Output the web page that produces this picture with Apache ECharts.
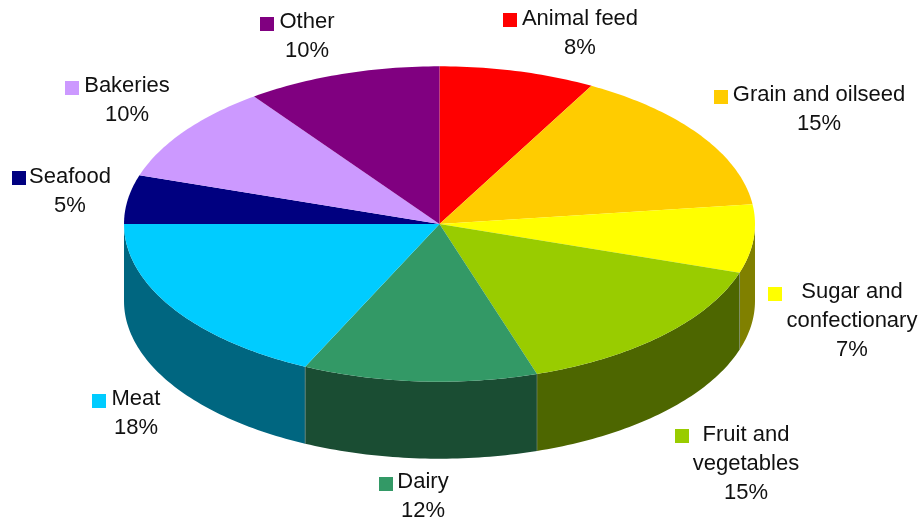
<!DOCTYPE html>
<html>
<head>
<meta charset="utf-8">
<style>html,body{margin:0;padding:0;background:#fff}#chart{width:919px;height:521px}</style>
<script src="https://cdn.jsdelivr.net/npm/echarts@6/dist/echarts.min.js"></script>
</head>
<body>
<div id="chart"></div>
<script>
// Data, clockwise from 12 o'clock
const categories = ['Animal feed', 'Grain and oilseed', 'Sugar and\nconfectionary', 'Fruit and\nvegetables', 'Dairy', 'Meat', 'Seafood', 'Bakeries', 'Other'];
const shares = [8, 15, 7, 15, 12, 18, 5, 10, 10];

// Styles and layout (kept apart from the data)
const topColors = ['#FF0000', '#FFCC00', '#FFFF00', '#99CC00', '#339966', '#00CCFF', '#000080', '#CC99FF', '#800080'];
const wallColors = ['#800000', '#806600', '#808000', '#4D6600', '#1A4D33', '#006680', '#000040', '#664D80', '#400040'];
const labelCenters = [[580, 33], [819, 109], [852, 321], [746, 463.5], [423, 496.5], [136, 413], [70, 191.5], [127, 100.5], [307, 36.5]];
const keyCorners = [[503, 13], [714, 90], [768, 287], [675, 429], [379, 477], [92, 394], [12, 171], [65, 81], [260, 17]];
const PIE = { cx: 439.5, cy: 224, rx: 315.5, ry: 157.7, depth: 77 };
const KEY_SIZE = 14;
const FONT = { size: 22, family: '"Liberation Sans", Arial, sans-serif', lineHeight: 29 };

const total = shares.reduce((a, b) => a + b, 0);
const startAt = shares.map((_, i) => shares.slice(0, i).reduce((a, b) => a + b, 0));
const toAngle = v => v / total * 2 * Math.PI;
const rim = (a, dy) => [PIE.cx + PIE.rx * Math.sin(a), PIE.cy - PIE.ry * Math.cos(a) + (dy || 0)];
const arc = (a0, a1, dy) => {
  const n = Math.max(2, Math.ceil((a1 - a0) / (Math.PI / 180)));
  const pts = [];
  for (let k = 0; k <= n; k++) pts.push(rim(a0 + (a1 - a0) * k / n, dy));
  return pts;
};

function renderWall(params, api) {
  const i = params.dataIndex;
  const a0 = Math.max(toAngle(api.value(1)), Math.PI / 2);
  const a1 = Math.min(toAngle(api.value(1) + api.value(0)), Math.PI * 1.5);
  if (a1 <= a0) return { type: 'group', children: [] };
  const upper = arc(a0, a1, 0);
  const lower = arc(a0, a1, PIE.depth).reverse();
  const seam = rim(a0, 0);
  return {
    type: 'group',
    children: [
      { type: 'polygon', shape: { points: upper.concat(lower) }, style: { fill: wallColors[i] }, silent: true },
      { type: 'line', shape: { x1: seam[0], y1: seam[1], x2: seam[0], y2: seam[1] + PIE.depth },
        style: { stroke: '#7F8F7F', lineWidth: 1, opacity: i === 2 ? 0 : 0.6 }, silent: true }
    ]
  };
}

function renderTop(params, api) {
  const i = params.dataIndex;
  const a0 = toAngle(api.value(1));
  const a1 = toAngle(api.value(1) + api.value(0));
  return {
    type: 'polygon',
    shape: { points: [[PIE.cx, PIE.cy]].concat(arc(a0, a1, 0)) },
    style: { fill: topColors[i] },
    silent: true
  };
}

function renderLabel(params, api) {
  const i = params.dataIndex;
  return {
    type: 'group',
    silent: true,
    children: [
      { type: 'rect', shape: { x: keyCorners[i][0], y: keyCorners[i][1], width: KEY_SIZE, height: KEY_SIZE }, style: { fill: topColors[i] } },
      { type: 'text', style: {
          text: categories[i] + '\n' + api.value(0) + '%',
          x: labelCenters[i][0], y: labelCenters[i][1],
          textAlign: 'center', textVerticalAlign: 'middle',
          fontSize: FONT.size, fontFamily: FONT.family, lineHeight: FONT.lineHeight,
          fill: '#111111'
      } }
    ]
  };
}

const rows = shares.map((v, i) => [v, startAt[i]]);
const custom = (renderItem, z) => ({
  type: 'custom', coordinateSystem: 'none', renderItem, data: rows, z,
  silent: true, animation: false, clip: false
});

const chart = echarts.init(document.getElementById('chart'), null, { renderer: 'canvas' });
chart.setOption({
  backgroundColor: '#ffffff',
  animation: false,
  series: [custom(renderWall, 1), custom(renderTop, 2), custom(renderLabel, 3)]
});
</script>
</body>
</html>
